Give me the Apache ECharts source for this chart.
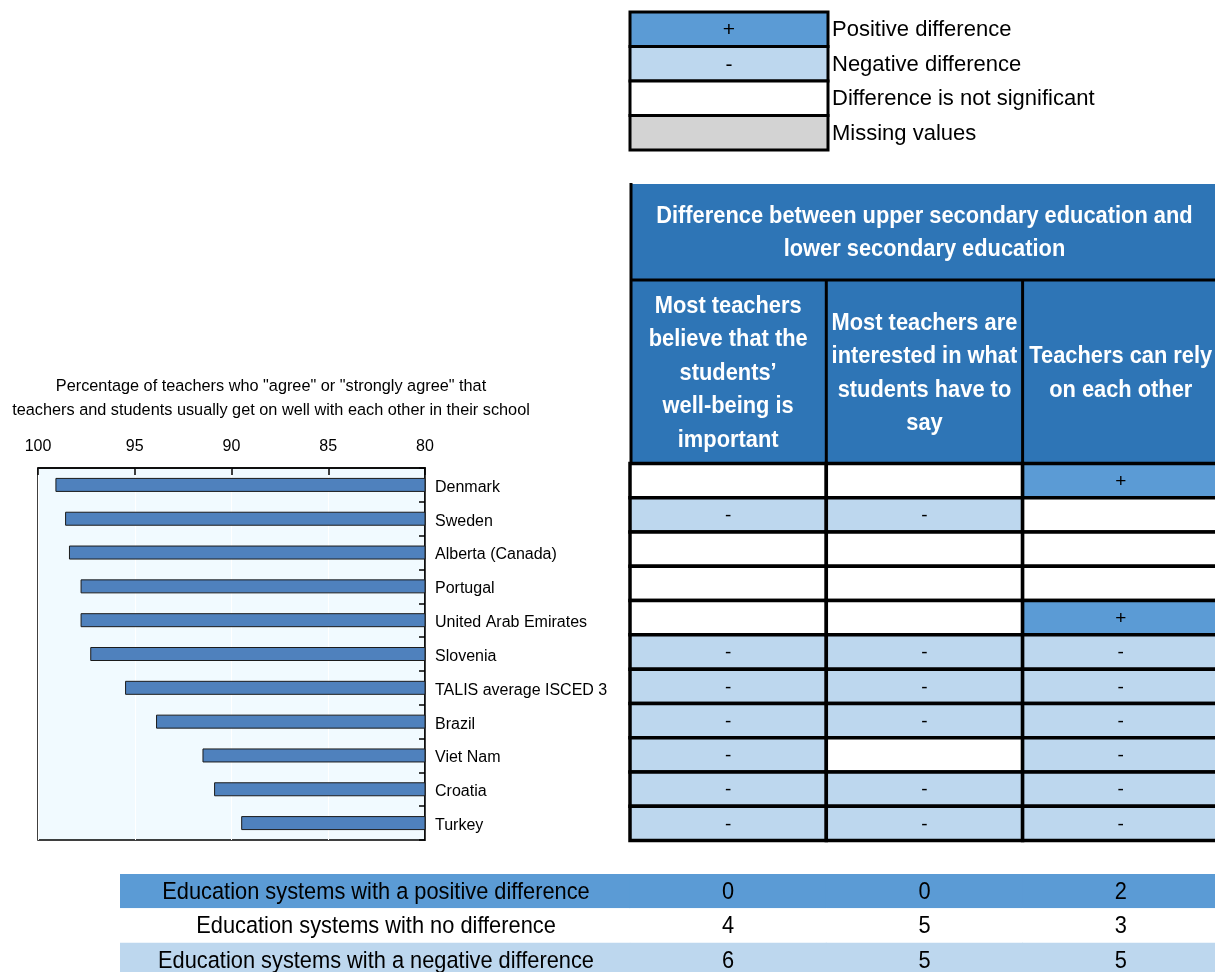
<!DOCTYPE html>
<html>
<head>
<meta charset="utf-8">
<script src="https://cdn.jsdelivr.net/npm/echarts@6/dist/echarts.min.js"></script>
<style>
  html, body { margin: 0; padding: 0; background: #ffffff; }
  #chart { width: 1215px; height: 972px; }
</style>
</head>
<body>
<div id="chart"></div>
<script>
// ---- data ----
const countries = [
  'Denmark', 'Sweden', 'Alberta (Canada)', 'Portugal', 'United Arab Emirates',
  'Slovenia', 'TALIS average ISCED 3', 'Brazil', 'Viet Nam', 'Croatia', 'Turkey'
];
// % of teachers who "agree" or "strongly agree" that teachers and students get on well
const agreeShare = [99.1, 98.6, 98.4, 97.8, 97.8, 97.3, 95.5, 93.9, 91.5, 90.9, 89.5];

const indicators = [
  'Most teachers\nbelieve that the\nstudents’\nwell-being is\nimportant',
  'Most teachers are\ninterested in what\nstudents have to\nsay',
  'Teachers can rely\non each other'
];
// '+' positive, '-' negative, '' not significant
const wellBeing  = ['', '-', '', '', '', '-', '-', '-', '-', '-', '-'];
const interested = ['', '-', '', '', '', '-', '-', '-', '', '-', '-'];
const relyOn     = ['+', '', '', '', '+', '-', '-', '-', '-', '-', '-'];

const summaryLabels = [
  'Education systems with a positive difference',
  'Education systems with no difference',
  'Education systems with a negative difference'
];
const positiveCounts = [0, 0, 2];
const noDiffCounts   = [4, 5, 3];
const negativeCounts = [6, 5, 5];

const legendItems = ['Positive difference', 'Negative difference', 'Difference is not significant', 'Missing values'];
const legendSigns = ['+', '-', '', ''];

// ---- styling ----
const FONT = '"Liberation Sans", Arial, Helvetica, sans-serif';
const C = {
  pos: '#5B9BD5', neg: '#BDD7EE', ns: '#FFFFFF', missing: '#D3D3D3',
  header: '#2E75B6', bar: '#4F81BD', plotBg: '#F1FAFF'
};
const signFill = s => s === '+' ? C.pos : (s === '-' ? C.neg : C.ns);

// ---- layout ----
const TBL_LEFT = 630, COL_W = 196.3, TBL_W = COL_W * 3;
const HEAD_TOP = 184, HEAD_SPLIT = 280, ROWS_TOP = 463.5, ROWS_H = 377;
const SUM_TOP = 874, SUM_H = 103;

// matrix cells for the significance table
const columns = [wellBeing, interested, relyOn];
const cells = [];
columns.forEach((col, ci) => col.forEach((s, ri) => cells.push({ value: [ci, ri], sign: s })));

const rowFills = [C.pos, C.ns, C.neg];
const countCols = [positiveCounts, noDiffCounts, negativeCounts];
const countCells = [];
countCols.forEach((arr, ri) => arr.forEach((v, ci) => countCells.push({ value: [ci, ri], text: String(v) })));

function cellRect(api) {
  const c = api.coord([api.value(0), api.value(1)]);
  const s = api.size([1, 1]);
  return { c, s, rect: { x: c[0] - s[0] / 2, y: c[1] - s[1] / 2, width: s[0], height: s[1] } };
}

// ---- header & legend graphics ----
const graphics = [];
// axis title of the bar panel
graphics.push({
  type: 'text', x: 271, y: 399,
  style: {
    text: 'Percentage of teachers who "agree" or "strongly agree" that\nteachers and students usually get on well with each other in their school',
    font: '16.3px ' + FONT, fill: '#000', align: 'center', verticalAlign: 'middle', lineHeight: 24
  }
});
// legend
const LG_TOP = 12, LG_H = 34.5, LG_W = 198;
legendItems.forEach((name, i) => {
  const y = LG_TOP + i * LG_H;
  const fill = i === 0 ? C.pos : i === 1 ? C.neg : i === 2 ? C.ns : C.missing;
  graphics.push({
    type: 'rect', shape: { x: TBL_LEFT, y, width: LG_W, height: LG_H },
    style: { fill, stroke: '#000', lineWidth: 3 }
  });
  if (legendSigns[i]) {
    graphics.push({
      type: 'text', x: TBL_LEFT + LG_W / 2, y: y + LG_H / 2 + 1,
      style: { text: legendSigns[i], font: '21px ' + FONT, fill: '#000', align: 'center', verticalAlign: 'middle' }
    });
  }
  graphics.push({
    type: 'text', x: TBL_LEFT + LG_W + 4, y: y + LG_H / 2 + 1,
    style: { text: name, font: '22px ' + FONT, fill: '#000', align: 'left', verticalAlign: 'middle' }
  });
});
// header block
graphics.push({
  type: 'rect', shape: { x: TBL_LEFT, y: HEAD_TOP, width: TBL_W, height: ROWS_TOP - HEAD_TOP },
  style: { fill: C.header }
});
graphics.push({
  type: 'text', x: TBL_LEFT + TBL_W / 2, y: (HEAD_TOP + HEAD_SPLIT) / 2 + 1, scaleX: 0.91,
  style: {
    text: 'Difference between upper secondary education and\nlower secondary education',
    font: 'bold 24px ' + FONT, fill: '#fff', align: 'center', verticalAlign: 'middle', lineHeight: 33
  }
});
indicators.forEach((t, i) => {
  graphics.push({
    type: 'text', x: TBL_LEFT + COL_W * (i + 0.5), y: (HEAD_SPLIT + ROWS_TOP) / 2 + 1.5, scaleX: 0.91,
    style: { text: t, font: 'bold 24px ' + FONT, fill: '#fff', align: 'center', verticalAlign: 'middle', lineHeight: 33.5 }
  });
});
// header rules
graphics.push({ type: 'line', shape: { x1: TBL_LEFT + 1, y1: HEAD_TOP - 1, x2: TBL_LEFT + 1, y2: ROWS_TOP }, style: { stroke: '#000', lineWidth: 3 } });
graphics.push({ type: 'line', shape: { x1: TBL_LEFT, y1: HEAD_SPLIT, x2: TBL_LEFT + TBL_W, y2: HEAD_SPLIT }, style: { stroke: '#000', lineWidth: 3 } });
[1, 2].forEach(k => graphics.push({
  type: 'line', shape: { x1: TBL_LEFT + COL_W * k, y1: HEAD_SPLIT, x2: TBL_LEFT + COL_W * k, y2: ROWS_TOP },
  style: { stroke: '#000', lineWidth: 3 }
}));

const option = {
  animation: false,
  backgroundColor: '#ffffff',
  textStyle: { fontFamily: FONT },
  graphic: { elements: graphics },
  grid: [
    { left: 38, top: 468, width: 387, height: 372, show: true, backgroundColor: C.plotBg, borderColor: '#000', borderWidth: 1.5, outerBoundsMode: 'none' },
    { left: TBL_LEFT, top: ROWS_TOP, width: TBL_W, height: ROWS_H, outerBoundsMode: 'none' },
    { left: 120, top: SUM_TOP, width: TBL_LEFT - 120, height: SUM_H, outerBoundsMode: 'none' },
    { left: TBL_LEFT, top: SUM_TOP, width: TBL_W, height: SUM_H, outerBoundsMode: 'none' }
  ],
  xAxis: [
    {
      gridIndex: 0, type: 'value', min: 80, max: 100, interval: 5, inverse: true, position: 'top',
      axisLine: { show: true, lineStyle: { color: '#000', width: 1.5 } },
      axisTick: { show: true, inside: true, length: 7, lineStyle: { color: '#000', width: 1.5 } },
      axisLabel: { fontSize: 16, color: '#000', margin: 13, fontFamily: FONT },
      splitLine: { show: true, lineStyle: { color: '#ffffff', width: 1 } }
    },
    { gridIndex: 1, type: 'category', data: [0, 1, 2], show: false },
    { gridIndex: 2, type: 'category', data: ['label'], show: false },
    { gridIndex: 3, type: 'category', data: [0, 1, 2], show: false }
  ],
  yAxis: [
    {
      gridIndex: 0, type: 'category', data: countries, inverse: true, position: 'right',
      axisLine: { show: true, lineStyle: { color: '#000', width: 1.5 } },
      axisTick: { show: true, inside: true, length: 6, lineStyle: { color: '#000', width: 1.5 } },
      axisLabel: {
        margin: 10, formatter: '{n|{value}}',
        rich: { n: { fontSize: 16, color: '#000', fontFamily: FONT, padding: [5, 0, 0, 0] } }
      }
    },
    { gridIndex: 1, type: 'category', data: countries, inverse: true, show: false },
    { gridIndex: 2, type: 'category', data: summaryLabels, inverse: true, show: false },
    { gridIndex: 3, type: 'category', data: summaryLabels, inverse: true, show: false }
  ],
  series: [
    {
      type: 'bar', xAxisIndex: 0, yAxisIndex: 0, data: agreeShare, barWidth: 14, clip: true, silent: true,
      itemStyle: { color: C.bar, borderColor: '#1b1b1b', borderWidth: 1 }
    },
    {
      type: 'custom', xAxisIndex: 1, yAxisIndex: 1, data: cells, silent: true, clip: false,
      renderItem(params, api) {
        const { c, rect } = cellRect(api);
        const sign = cells[params.dataIndex].sign;
        return {
          type: 'group', children: [
            { type: 'rect', shape: rect, style: { fill: signFill(sign), stroke: '#000', lineWidth: 3.5 } },
            { type: 'text', x: c[0], y: c[1] + 1, style: { text: sign, font: '19px ' + FONT, fill: '#000', align: 'center', verticalAlign: 'middle' } }
          ]
        };
      }
    },
    {
      type: 'custom', xAxisIndex: 2, yAxisIndex: 2, silent: true,
      data: summaryLabels.map((t, i) => [0, i]),
      renderItem(params, api) {
        const { c, rect } = cellRect(api);
        const i = params.dataIndex;
        return {
          type: 'group', children: [
            { type: 'rect', shape: { x: rect.x, y: rect.y, width: rect.width + 1, height: rect.height }, style: { fill: rowFills[i] } },
            { type: 'text', x: c[0] + 1, y: c[1] + 1, scaleX: 0.89, style: { text: summaryLabels[i], font: '24.5px ' + FONT, fill: '#000', align: 'center', verticalAlign: 'middle' } }
          ]
        };
      }
    },
    {
      type: 'custom', xAxisIndex: 3, yAxisIndex: 3, data: countCells, silent: true,
      renderItem(params, api) {
        const { c, rect } = cellRect(api);
        const d = countCells[params.dataIndex];
        return {
          type: 'group', children: [
            { type: 'rect', shape: { x: rect.x - 0.5, y: rect.y, width: rect.width + 1, height: rect.height }, style: { fill: rowFills[d.value[1]] } },
            { type: 'text', x: c[0], y: c[1] + 1, scaleX: 0.89, style: { text: d.text, font: '24.5px ' + FONT, fill: '#000', align: 'center', verticalAlign: 'middle' } }
          ]
        };
      }
    }
  ]
};

const chart = echarts.init(document.getElementById('chart'), null, { renderer: 'canvas' });
chart.setOption(option);
</script>
</body>
</html>
